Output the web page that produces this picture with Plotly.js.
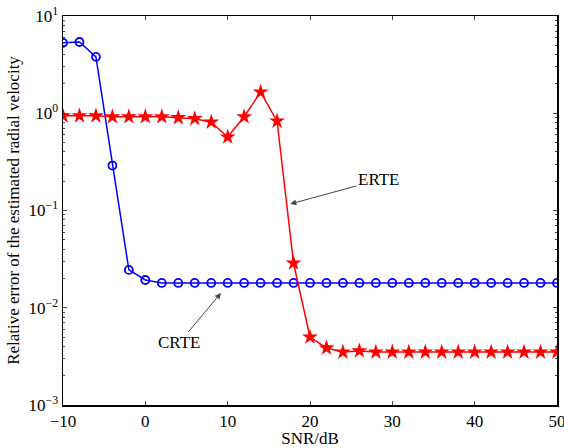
<!DOCTYPE html>
<html>
<head>
<meta charset="utf-8">
<script src="https://cdn.plot.ly/plotly-3.0.1.min.js"></script>
<style>html,body{margin:0;padding:0;background:#fff;}#chart{width:564px;height:448px;}</style>
</head>
<body>
<div id="chart"></div>
<script>
var snr = [-10,-8,-6,-4,-2,0,2,4,6,8,10,12,14,16,18,20,22,24,26,28,30,32,34,36,38,40,42,44,46,48,50];
var crte = [5.3,5.4,3.8,0.29,0.0245,0.0193,0.018,0.018,0.018,0.018,0.018,0.018,0.018,0.018,0.018,0.018,0.018,0.018,0.018,0.018,0.018,0.018,0.018,0.018,0.018,0.018,0.018,0.018,0.018,0.018,0.018];
var erte = [0.94,0.94,0.94,0.92,0.92,0.92,0.92,0.9,0.88,0.81,0.57,0.92,1.65,0.83,0.0288,0.005,0.00386,0.0035,0.0036,0.0035,0.0035,0.0035,0.0035,0.0035,0.0035,0.0035,0.0035,0.0035,0.0035,0.0035,0.0035];
var xTickVals = [-10,0,10,20,30,40,50];
var yTickVals = [0.001,0.01,0.1,1,10];
var yTickText = ['10<sup>\u22123</sup>','10<sup>\u22122</sup>','10<sup>\u22121</sup>','10<sup>0</sup>','10<sup>1</sup>'];
var xTickText = ['\u221210','0','10','20','30','40','50'];

var font = {family:'Liberation Serif, Times New Roman, serif', size:17, color:'#000'};

var traces = [
  {x:snr, y:crte, type:'scatter', mode:'lines+markers', name:'CRTE',
   line:{color:'#0000ff', width:1.5},
   marker:{symbol:'circle-open', size:8, color:'#0000ff', line:{width:1.8, color:'#0000ff'}}},
  {x:snr, y:erte, type:'scatter', mode:'lines+markers', name:'ERTE',
   line:{color:'#ff0000', width:1.5},
   marker:{symbol:'star', size:12, color:'#ff0000', line:{width:0}}}
];

var layout = {
  width:564, height:448,
  margin:{l:63, r:7, t:16, b:43},
  paper_bgcolor:'#fff', plot_bgcolor:'#fff',
  showlegend:false,
  font:font,
  xaxis:{range:[-10,50], tickvals:xTickVals, ticktext:xTickText, ticks:'inside', ticklen:4,
    mirror:'ticks', showline:true, linecolor:'#000', linewidth:1.5, showgrid:false, zeroline:false,
    ticklabeloverflow:'allow', tickfont:font, title:{text:'SNR/dB', font:font, standoff:0}},
  yaxis:{type:'log', range:[-3,1], tickvals:yTickVals, ticktext:yTickText, ticks:'inside', ticklen:4,
    mirror:'ticks', showline:true, linecolor:'#000', linewidth:1.5, showgrid:false, zeroline:false,
    ticklabeloverflow:'allow', tickfont:font, title:{text:'Relative error of the estimated radial velocity', font:font, standoff:4},
    minor:{ticks:'inside', ticklen:2, dtick:'D1', showgrid:false}},
  yaxis2:{type:'log', range:[-3,1], overlaying:'y', side:'right', tickvals:yTickVals, ticks:'inside', ticklen:4,
    showticklabels:false, showline:false, showgrid:false, zeroline:false,
    minor:{ticks:'inside', ticklen:2, dtick:'D1', showgrid:false}},
  annotations:[
    {x:17.6, y:-0.933, xref:'x', yref:'y', text:'ERTE', showarrow:true, arrowhead:2, arrowsize:1.2,
     arrowwidth:1, arrowcolor:'#444', ax:88, ay:-24, font:font},
    {x:9.19, y:-1.848, xref:'x', yref:'y', text:'CRTE', showarrow:true, arrowhead:2, arrowsize:1.2,
     arrowwidth:1, arrowcolor:'#444', ax:-42, ay:50, font:font}
  ]
};
Plotly.newPlot('chart', traces, layout, {displayModeBar:false, staticPlot:true});
</script>
</body>
</html>
